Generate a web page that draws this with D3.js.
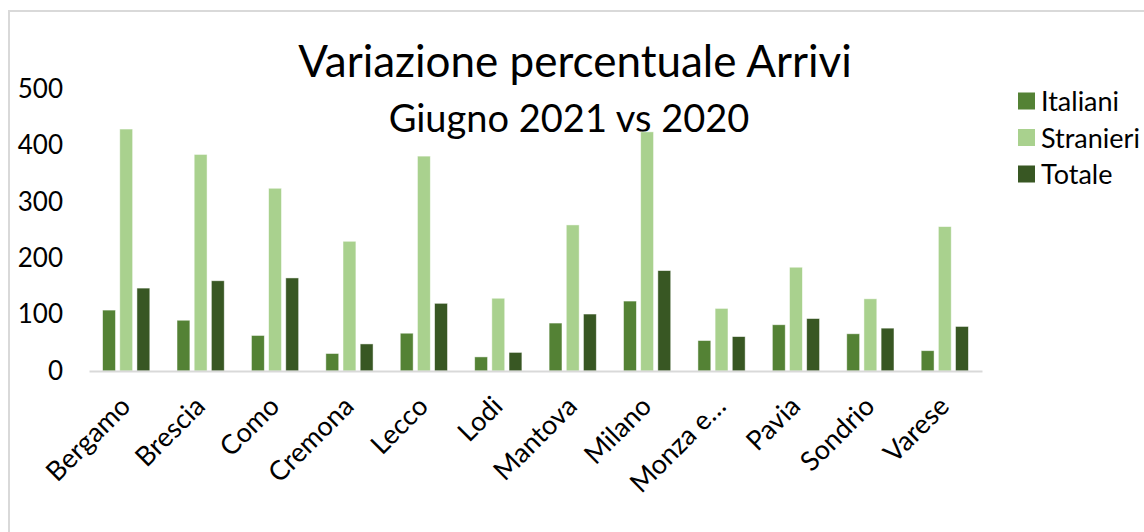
<!DOCTYPE html>
<html>
<head>
<meta charset="utf-8">
<script src="https://cdn.jsdelivr.net/npm/d3@7"></script>
<style>
  body { margin: 0; background: #fff; }
  text { font-family: Lato, "Open Sans", sans-serif; fill: #000; }
</style>
</head>
<body>
<div id="main"></div>
<script>
// chart data
const province = ['Bergamo', 'Brescia', 'Como', 'Cremona', 'Lecco', 'Lodi', 'Mantova', 'Milano', 'Monza e…', 'Pavia', 'Sondrio', 'Varese'];
const italiani = [108, 90, 63, 31, 67, 25, 85, 124, 54, 82, 66, 36];
const stranieri = [429, 384, 324, 230, 381, 129, 259, 424, 111, 184, 128, 256];
const totale = [147, 160, 165, 48, 120, 33, 101, 178, 61, 93, 76, 79];
const seriesNames = ['Italiani', 'Stranieri', 'Totale'];
const yTicks = [0, 100, 200, 300, 400, 500];

// main program function
function main() {
  const width = 1144;
  const height = 532;
  const colors = ['#548235', '#a9d18e', '#385723'];
  const series = [italiani, stranieri, totale];

  const svg = d3.select('#main').append('svg')
    .attr('width', width)
    .attr('height', height);

  // chart frame
  svg.append('rect')
    .attr('x', 9)
    .attr('y', 11)
    .attr('width', 1160)
    .attr('height', 560)
    .attr('fill', 'none')
    .attr('stroke', '#d9d9d9')
    .attr('stroke-width', 2);

  // scales
  const x0 = d3.scaleBand()
    .domain(province)
    .range([89, 982]);
  const x1 = d3.scaleBand()
    .domain(seriesNames)
    .range([13.6, x0.bandwidth() - 13.6])
    .paddingInner(0.25);
  const y = d3.scaleLinear()
    .domain([0, 500])
    .range([371, 89]);

  // titles
  svg.append('text')
    .attr('x', 575)
    .attr('y', 77)
    .attr('text-anchor', 'middle')
    .style('font-size', '44px')
    .text('Variazione percentuale Arrivi');
  svg.append('text')
    .attr('x', 569)
    .attr('y', 132)
    .attr('text-anchor', 'middle')
    .style('font-size', '38px')
    .text('Giugno 2021 vs 2020');

  // y axis labels (no axis line)
  const yAxis = svg.append('g')
    .attr('transform', 'translate(63,0)')
    .call(d3.axisLeft(y).tickValues(yTicks).tickSize(0).tickPadding(0));
  yAxis.select('.domain').remove();
  yAxis.selectAll('text')
    .style('font-size', '26px')
    .style('font-family', 'Lato, sans-serif')
    .attr('fill', '#000');

  // bars
  const groups = svg.append('g')
    .selectAll('g')
    .data(province)
    .enter()
    .append('g')
    .attr('transform', d => `translate(${x0(d)},0)`);
  groups.selectAll('rect')
    .data((d, i) => seriesNames.map((s, k) => ({ s, v: series[k][i], k })))
    .enter()
    .append('rect')
    .attr('x', d => x1(d.s))
    .attr('y', d => y(d.v))
    .attr('width', x1.bandwidth())
    .attr('height', d => y(0) - y(d.v))
    .attr('fill', d => colors[d.k])
    .attr('stroke', '#ffffff')
    .attr('stroke-opacity', 0.6)
    .attr('stroke-width', 0.8);

  // x axis line + rotated labels
  const xAxis = svg.append('g')
    .attr('transform', `translate(0,${y(0)})`)
    .call(d3.axisBottom(x0).tickSize(0).tickPadding(0));
  xAxis.select('.domain')
    .attr('stroke', '#d9d9d9')
    .attr('stroke-width', 2);
  xAxis.selectAll('text')
    .style('font-size', '27px')
    .style('font-family', 'Lato, sans-serif')
    .attr('fill', '#000')
    .attr('text-anchor', 'end')
    .attr('dy', 0)
    .attr('y', 0)
    .attr('transform', 'translate(6,37) rotate(-45)');

  // legend
  const legend = svg.append('g')
    .selectAll('g')
    .data(seriesNames)
    .enter()
    .append('g')
    .attr('transform', (d, i) => `translate(1018,${101 + i * 36.5})`);
  legend.append('rect')
    .attr('x', 0)
    .attr('y', -8.5)
    .attr('width', 17)
    .attr('height', 17)
    .attr('fill', (d, i) => colors[i]);
  legend.append('text')
    .attr('x', 23)
    .attr('y', 10)
    .style('font-size', '27px')
    .text(d => d);
}
// executes main function after DOM is loaded
document.addEventListener('DOMContentLoaded', main);
</script>
</body>
</html>
